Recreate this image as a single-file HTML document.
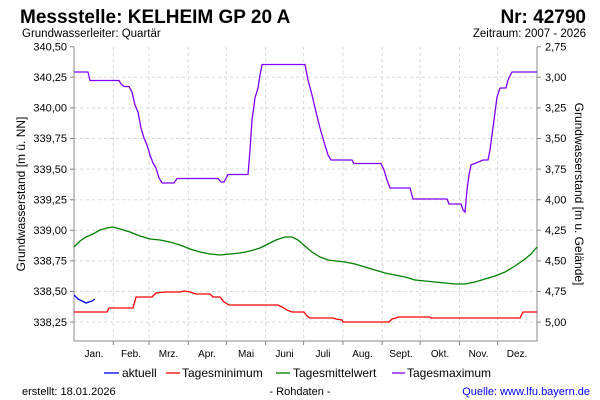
<!DOCTYPE html>
<html><head><meta charset="utf-8"><style>
body{margin:0;background:#fff;}
svg{display:block;font-family:"Liberation Sans",sans-serif;}
</style></head><body>
<svg width="600" height="400" viewBox="0 0 600 400">
<rect width="600" height="400" fill="#fff"/>
<text x="20" y="23" font-size="19" font-weight="bold">Messstelle: KELHEIM GP 20 A</text>
<text x="586" y="23" font-size="19" font-weight="bold" text-anchor="end">Nr: 42790</text>
<text x="22" y="37" font-size="11.5">Grundwasserleiter: Quartär</text>
<text x="586" y="37" font-size="11.5" text-anchor="end">Zeitraum: 2007 - 2026</text>
<g stroke="#d8d8d8" stroke-dasharray="3,3" stroke-width="1">
<line x1="74" x2="537" y1="77.3" y2="77.3"/><line x1="74" x2="537" y1="107.9" y2="107.9"/>
<line x1="74" x2="537" y1="138.5" y2="138.5"/><line x1="74" x2="537" y1="169.1" y2="169.1"/>
<line x1="74" x2="537" y1="199.7" y2="199.7"/><line x1="74" x2="537" y1="230.3" y2="230.3"/>
<line x1="74" x2="537" y1="260.9" y2="260.9"/><line x1="74" x2="537" y1="291.5" y2="291.5"/>
<line x1="74" x2="537" y1="322.1" y2="322.1"/>
<line y1="47" y2="341" x1="113.3" x2="113.3"/><line y1="47" y2="341" x1="149" x2="149"/>
<line y1="47" y2="341" x1="188.3" x2="188.3"/><line y1="47" y2="341" x1="226.3" x2="226.3"/>
<line y1="47" y2="341" x1="265.6" x2="265.6"/><line y1="47" y2="341" x1="303.6" x2="303.6"/>
<line y1="47" y2="341" x1="342.9" x2="342.9"/><line y1="47" y2="341" x1="382.2" x2="382.2"/>
<line y1="47" y2="341" x1="420.2" x2="420.2"/><line y1="47" y2="341" x1="459.5" x2="459.5"/>
<line y1="47" y2="341" x1="497.6" x2="497.6"/>
</g>
<g stroke="#888" stroke-width="1" fill="none">
<path d="M74,47V341H537V47"/>
<path d="M70,46.7h4M70,77.3h4M70,107.9h4M70,138.5h4M70,169.1h4M70,199.7h4M70,230.3h4M70,260.9h4M70,291.5h4M70,322.1h4"/>
<path d="M537,46.7h4M537,77.3h4M537,107.9h4M537,138.5h4M537,169.1h4M537,199.7h4M537,230.3h4M537,260.9h4M537,291.5h4M537,322.1h4"/>
<path d="M113.3,341v4M149,341v4M188.3,341v4M226.3,341v4M265.6,341v4M303.6,341v4M342.9,341v4M382.2,341v4M420.2,341v4M459.5,341v4M497.6,341v4"/>
</g>
<g font-size="11" text-anchor="end">
<text x="67" y="50.5">340,50</text><text x="67" y="81">340,25</text><text x="67" y="111.5">340,00</text>
<text x="67" y="142">339,75</text><text x="67" y="173">339,50</text><text x="67" y="203.5">339,25</text>
<text x="67" y="234">339,00</text><text x="67" y="264.5">338,75</text><text x="67" y="295">338,50</text>
<text x="67" y="326">338,25</text>
</g>
<g font-size="11">
<text x="545" y="50.5">2,75</text><text x="545" y="81">3,00</text><text x="545" y="111.5">3,25</text>
<text x="545" y="142">3,50</text><text x="545" y="173">3,75</text><text x="545" y="203.5">4,00</text>
<text x="545" y="234">4,25</text><text x="545" y="264.5">4,50</text><text x="545" y="295">4,75</text>
<text x="545" y="326">5,00</text>
</g>
<g font-size="10" text-anchor="middle">
<text x="94" y="357">Jan.</text><text x="131" y="357">Feb.</text><text x="168.5" y="357">Mrz.</text>
<text x="207" y="357">Apr.</text><text x="246" y="357">Mai</text><text x="284.5" y="357">Juni</text>
<text x="323" y="357">Juli</text><text x="362.5" y="357">Aug.</text><text x="401" y="357">Sept.</text>
<text x="440" y="357">Okt.</text><text x="478.5" y="357">Nov.</text><text x="517" y="357">Dez.</text>
</g>
<text transform="translate(25,194) rotate(-90)" font-size="12" text-anchor="middle">Grundwasserstand [m ü. NN]</text>
<text transform="translate(575,194) rotate(90)" font-size="12" text-anchor="middle">Grundwasserstand [m u. Gelände]</text>
<g fill="none" stroke-width="1.3">
<polyline stroke="#8000ff" points="74,72 88,72 90,80.5 119,80.5 121,84 124,86.5 129,86.5 132,92 135,105 138,112 141,128 144,138 147,145 150,155 153,163 156,168 159,178 162,183 174,183 177,178.5 218,178.5 221,182 224,182 228,174.5 248,174.5 250,150 252,120 255,98 258,88 260,75 262,64.5 305,64.5 308,80 312,95 316,112 320,128 324,142 328,155 331,160 352,160 354,163.5 381,163.5 384,170 387,180 390,188 410,188 413,199 447,199 449,204 461,204 463,210 465,212 467,190 469,175 471,165 476,163 483,160 488,160 490,150 494,120 497,97 500,88 506,88 508,80 512,72 537,72"/>
<polyline stroke="#008000" points="74,247 80,241 86,237 93,234 100,230 107,228 113,227 120,229 130,232 140,236 150,239 160,240 170,242 180,245 190,249 200,252 210,254 220,255 230,254 240,253 250,251 260,248 268,244 276,240 285,237 292,237 298,240 305,246 312,252 320,257 328,260 336,261 345,262 355,264 365,267 375,270 385,273 395,275 405,277 415,280 425,281 435,282 445,283 455,284 465,284 475,282 485,279 495,276 505,272 515,266 525,259 531,254 537,247"/>
<polyline stroke="#ff0000" points="74,312 107,312 109,308 133,308 136,297 152,297 156,293 165,292 180,292 184,291 190,292 196,294 210,294 213,297 220,297 224,302 229,305 278,305 282,307 287,310 292,312 304,312 307,316 310,318 333,318 336,319 342,320 343,322 389,322 392,319 396,318 398,317 430,317 431,318 509,318 520,318 523,312 537,312"/>
<polyline stroke="#0000ff" points="74,295 78,299 82,301 86,303 89,302 92,301 95,299"/>
</g>
<g font-size="12">
<line x1="104" x2="119" y1="373" y2="373" stroke="#0000ff" stroke-width="1.3"/><text x="122" y="377">aktuell</text>
<line x1="166" x2="180" y1="373" y2="373" stroke="#ff0000" stroke-width="1.3"/><text x="182" y="377">Tagesminimum</text>
<line x1="276" x2="290" y1="373" y2="373" stroke="#008000" stroke-width="1.3"/><text x="293" y="377">Tagesmittelwert</text>
<line x1="392" x2="405" y1="373" y2="373" stroke="#8000ff" stroke-width="1.3"/><text x="407" y="377">Tagesmaximum</text>
</g>
<g font-size="11">
<text x="22" y="395">erstellt:  18.01.2026</text>
<text x="300" y="395" text-anchor="middle">- Rohdaten -</text>
<text x="590" y="395" text-anchor="end" fill="#0000ff">Quelle: www.lfu.bayern.de</text>
</g>
</svg>
</body></html>
